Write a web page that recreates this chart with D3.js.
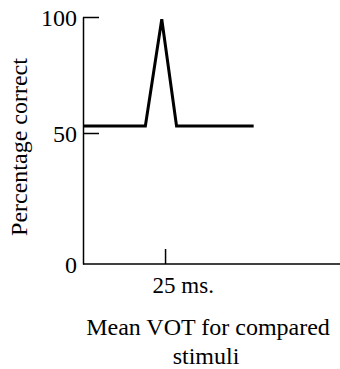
<!DOCTYPE html>
<html>
<head>
<meta charset="utf-8">
<script src="https://cdn.jsdelivr.net/npm/d3@7"></script>
<style>
  body { margin: 0; background: #fff; }
  svg text { font-family: "Liberation Serif", "DejaVu Serif", "Times New Roman", Times, serif; fill: #000; }
</style>
</head>
<body>
<svg id="chart" width="340" height="369"></svg>
<script>
// mean VOT (ms) and percentage correct
const votMs = [0, 19, 24, 28.5, 52];
const pctCorrect = [53, 53, 99, 53, 53];
const yTicks = [0, 50, 100];
const xTicks = [25];

const svg = d3.select("#chart");

const x = d3.scaleLinear().domain([0, 78]).range([83, 339]);
// the hand-drawn axis is not evenly spaced, so map each tick to where it sits
const y = d3.scaleLinear().domain(yTicks).range([264, 133, 17]);

const yAxis = svg.append("g")
  .attr("transform", "translate(83,0)")
  .call(d3.axisLeft(y).tickValues(yTicks).tickSizeInner(-16).tickSizeOuter(0).tickPadding(6));

yAxis.selectAll(".tick line").filter(d => d === 0).remove();

const xAxis = svg.append("g")
  .attr("transform", "translate(0,264)")
  .call(d3.axisBottom(x).tickValues(xTicks).tickSizeInner(-15).tickSizeOuter(0)
    .tickFormat(d => d + " ms."));

xAxis.select(".domain").attr("d", "M83,0H340");

svg.selectAll("g").attr("font-family", null);
svg.selectAll(".domain, .tick line").attr("stroke", "#000").attr("stroke-width", 1.5);
yAxis.selectAll(".tick text")
  .attr("font-size", 24)
  .attr("dy", "0.37em");
xAxis.selectAll(".tick text")
  .attr("font-size", 23)
  .attr("text-anchor", "start")
  .attr("x", -13)
  .attr("y", 29)
  .attr("dy", null);

const line = d3.line()
  .x((d, i) => x(votMs[i]))
  .y(d => y(d));

svg.append("path")
  .datum(pctCorrect)
  .attr("d", line)
  .attr("fill", "none")
  .attr("stroke", "#000")
  .attr("stroke-width", 3)
  .attr("stroke-linejoin", "miter");

svg.append("text")
  .attr("transform", "translate(27,147) rotate(-90)")
  .attr("text-anchor", "middle")
  .attr("font-size", 24)
  .text("Percentage correct");

svg.append("text")
  .attr("x", 208)
  .attr("y", 335)
  .attr("text-anchor", "middle")
  .attr("font-size", 24)
  .text("Mean VOT for compared");

svg.append("text")
  .attr("x", 206)
  .attr("y", 364)
  .attr("text-anchor", "middle")
  .attr("font-size", 24)
  .text("stimuli");
</script>
</body>
</html>
